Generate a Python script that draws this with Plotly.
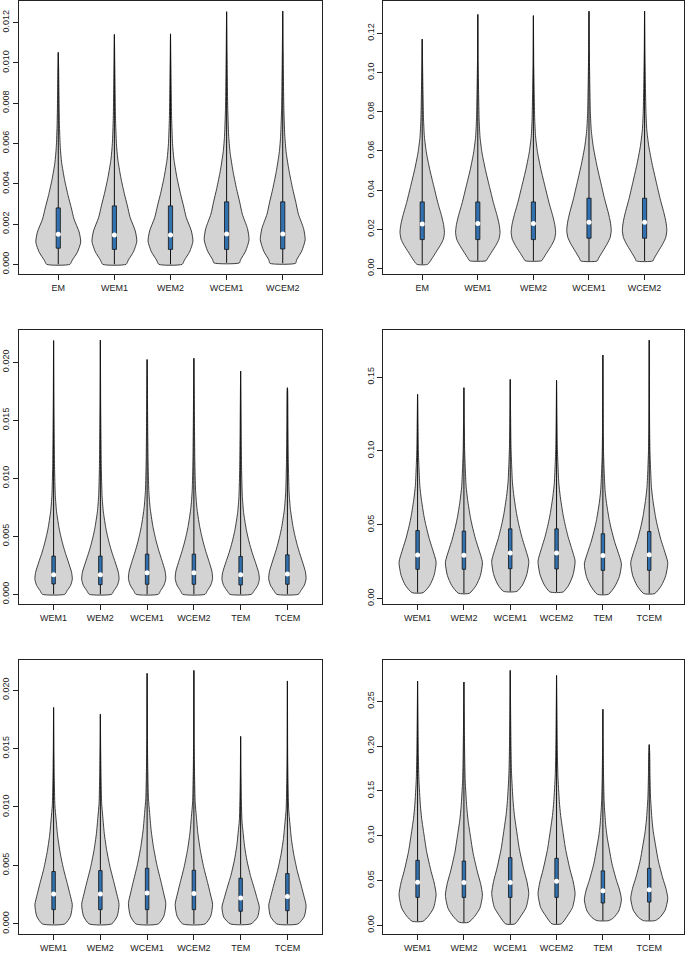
import plotly.graph_objects as go

# ---------------- data ----------------
# Panel 1 (top-left)
p1_cats = ["EM", "WEM1", "WEM2", "WCEM1", "WCEM2"]
p1_min = [0.0, 0.0, 0.0, 0.00007, 0.00005]
p1_q1 = [0.00080, 0.00074, 0.00074, 0.00074, 0.00076]
p1_med = [0.00149, 0.00146, 0.00146, 0.00151, 0.00151]
p1_q3 = [0.00280, 0.00290, 0.00290, 0.00310, 0.00310]
p1_max = [0.01052, 0.01141, 0.01144, 0.01254, 0.01257]
p1_base = [0.52, 0.52, 0.52, 0.57, 0.57]
p1_lev = [0.0002, 0.0006, 0.0011, 0.0016, 0.00225, 0.0028, 0.0034, 0.0042, 0.00505, 0.0058, 0.0070, 0.0085, 0.0098]
p1_den = [0.62, 0.85, 1.00, 0.93, 0.70, 0.58, 0.44, 0.28, 0.15, 0.09, 0.05, 0.03, 0.015]
p1_ticks = [0.000, 0.002, 0.004, 0.006, 0.008, 0.010, 0.012]

# Panel 2 (top-right)
p2_cats = ["EM", "WEM1", "WEM2", "WCEM1", "WCEM2"]
p2_min = [0.0022, 0.0040, 0.0040, 0.0039, 0.0039]
p2_q1 = [0.0148, 0.0148, 0.0148, 0.0155, 0.0155]
p2_med = [0.0227, 0.0230, 0.0230, 0.0236, 0.0236]
p2_q3 = [0.0340, 0.0340, 0.0340, 0.0359, 0.0359]
p2_max = [0.1170, 0.1296, 0.1290, 0.1313, 0.1313]
p2_base = [0.24, 0.37, 0.37, 0.37, 0.37]
p2_lev = [0.0050, 0.0084, 0.0118, 0.0150, 0.0185, 0.0225, 0.0269, 0.0337, 0.0420, 0.0505, 0.0590, 0.0670, 0.0758, 0.0900, 0.1050]
p2_den = [0.43, 0.62, 0.81, 0.95, 1.00, 0.96, 0.87, 0.70, 0.52, 0.34, 0.19, 0.10, 0.06, 0.035, 0.015]
p2_ticks = [0.00, 0.02, 0.04, 0.06, 0.08, 0.10, 0.12]

# Panel 3 (middle-left)
p3_cats = ["WEM1", "WEM2", "WCEM1", "WCEM2", "TEM", "TCEM"]
p3_min = [0.0, 0.0, 0.0, 0.0, 0.0, 0.0]
p3_q1 = [0.00089, 0.00083, 0.00086, 0.00086, 0.00080, 0.00086]
p3_med = [0.00169, 0.00169, 0.00186, 0.00186, 0.00169, 0.00175]
p3_q3 = [0.00329, 0.00329, 0.00346, 0.00346, 0.00326, 0.00340]
p3_max = [0.02186, 0.02190, 0.02023, 0.02034, 0.01923, 0.01780]
p3_base = [0.60, 0.60, 0.60, 0.60, 0.58, 0.58]
p3_lev = [0.0003, 0.00077, 0.0013, 0.0019, 0.00278, 0.0035, 0.0042, 0.0049, 0.00564, 0.0071, 0.0085, 0.0110, 0.0140, 0.0170]
p3_den = [0.72, 0.91, 1.00, 0.96, 0.79, 0.64, 0.51, 0.40, 0.30, 0.16, 0.09, 0.05, 0.03, 0.015]
p3_ticks = [0.000, 0.005, 0.010, 0.015, 0.020]

# Panel 4 (middle-right)
p4_cats = ["WEM1", "WEM2", "WCEM1", "WCEM2", "TEM", "TCEM"]
p4_min = [0.0040, 0.0036, 0.0049, 0.0045, 0.0029, 0.0034]
p4_q1 = [0.0198, 0.0198, 0.0202, 0.0200, 0.0191, 0.0191]
p4_med = [0.0295, 0.0293, 0.0308, 0.0308, 0.0292, 0.0297]
p4_q3 = [0.0461, 0.0457, 0.0472, 0.0472, 0.0439, 0.0454]
p4_max = [0.1383, 0.1428, 0.1484, 0.1478, 0.1649, 0.1750]
p4_base = [0.30, 0.30, 0.36, 0.36, 0.30, 0.30]
p4_lev = [0.0090, 0.0157, 0.0247, 0.0337, 0.0405, 0.0495, 0.0562, 0.0675, 0.0765, 0.0900, 0.1010, 0.1200]
p4_den = [0.66, 0.89, 1.00, 0.80, 0.63, 0.45, 0.34, 0.20, 0.12, 0.07, 0.04, 0.02]
p4_ticks = [0.00, 0.05, 0.10, 0.15]

# Panel 5 (bottom-left)
p5_cats = ["WEM1", "WEM2", "WCEM1", "WCEM2", "TEM", "TCEM"]
p5_min = [0.0, 0.0, 0.0, 0.0, 0.0, 0.0]
p5_q1 = [0.00122, 0.00122, 0.00122, 0.00122, 0.00108, 0.00113]
p5_med = [0.00255, 0.00255, 0.00264, 0.00261, 0.00221, 0.00235]
p5_q3 = [0.00448, 0.00456, 0.00476, 0.00459, 0.00391, 0.00431]
p5_max = [0.01851, 0.01794, 0.02143, 0.02168, 0.01604, 0.02078]
p5_base = [0.60, 0.60, 0.60, 0.60, 0.55, 0.57]
p5_lev = [0.00065, 0.00164, 0.0025, 0.00334, 0.00476, 0.00618, 0.0076, 0.0090, 0.0101, 0.0125, 0.0150]
p5_den = [0.90, 1.00, 0.88, 0.75, 0.52, 0.34, 0.21, 0.13, 0.07, 0.035, 0.015]
p5_ticks = [0.000, 0.005, 0.010, 0.015, 0.020]

# Panel 6 (bottom-right)
p6_cats = ["WEM1", "WEM2", "WCEM1", "WCEM2", "TEM", "TCEM"]
p6_min = [0.0044, 0.0033, 0.0015, 0.0015, 0.0052, 0.0052]
p6_q1 = [0.0311, 0.0311, 0.0311, 0.0311, 0.0248, 0.0259]
p6_med = [0.0481, 0.0477, 0.0477, 0.0492, 0.0385, 0.0396]
p6_q3 = [0.0725, 0.0717, 0.0754, 0.0747, 0.0607, 0.0636]
p6_max = [0.2726, 0.2715, 0.2844, 0.2788, 0.2411, 0.2016]
p6_base = [0.29, 0.25, 0.25, 0.25, 0.32, 0.32]
p6_lev = [0.0100, 0.0192, 0.0340, 0.0470, 0.0600, 0.0820, 0.1006, 0.1190, 0.1340, 0.1630, 0.1930, 0.2200, 0.2500]
p6_den = [0.58, 0.86, 1.00, 0.90, 0.73, 0.49, 0.35, 0.22, 0.15, 0.07, 0.04, 0.025, 0.01]
p6_ticks = [0.00, 0.05, 0.10, 0.15, 0.20, 0.25]

# ---------------- styling / layout ----------------
HALF = 0.4          # max half-width of a violin (category units)
BOXW = 0.075        # box width (category units)
VIOLIN_FILL = "#D3D3D3"
OUTLINE = "#2b2b2b"
BOX_FILL = "#3271B0"
FONT = dict(family="Liberation Sans, Arial, sans-serif", size=9, color="#222222")

panels = [
    dict(cats=p1_cats, mn=p1_min, q1=p1_q1, med=p1_med, q3=p1_q3, mx=p1_max, base=p1_base,
         lev=p1_lev, den=p1_den, ticks=p1_ticks, fmt=".3f",
         xd=[19 / 685, 322 / 685], yd=[1 - 275 / 956, 1 - 1 / 956]),
    dict(cats=p2_cats, mn=p2_min, q1=p2_q1, med=p2_med, q3=p2_q3, mx=p2_max, base=p2_base,
         lev=p2_lev, den=p2_den, ticks=p2_ticks, fmt=".2f",
         xd=[383.3 / 685, 683.5 / 685], yd=[1 - 275 / 956, 1 - 1 / 956]),
    dict(cats=p3_cats, mn=p3_min, q1=p3_q1, med=p3_med, q3=p3_q3, mx=p3_max, base=p3_base,
         lev=p3_lev, den=p3_den, ticks=p3_ticks, fmt=".3f",
         xd=[19 / 685, 322 / 685], yd=[1 - 605.7 / 956, 1 - 330.7 / 956]),
    dict(cats=p4_cats, mn=p4_min, q1=p4_q1, med=p4_med, q3=p4_q3, mx=p4_max, base=p4_base,
         lev=p4_lev, den=p4_den, ticks=p4_ticks, fmt=".2f",
         xd=[383.3 / 685, 683.5 / 685], yd=[1 - 605.7 / 956, 1 - 330.7 / 956]),
    dict(cats=p5_cats, mn=p5_min, q1=p5_q1, med=p5_med, q3=p5_q3, mx=p5_max, base=p5_base,
         lev=p5_lev, den=p5_den, ticks=p5_ticks, fmt=".3f",
         xd=[19 / 685, 322 / 685], yd=[1 - 936 / 956, 1 - 661.7 / 956]),
    dict(cats=p6_cats, mn=p6_min, q1=p6_q1, med=p6_med, q3=p6_q3, mx=p6_max, base=p6_base,
         lev=p6_lev, den=p6_den, ticks=p6_ticks, fmt=".2f",
         xd=[383.3 / 685, 683.5 / 685], yd=[1 - 936 / 956, 1 - 661.7 / 956]),
]


def violin_outline(pos, vmin, vmax, base_w, scale, lev, den):
    ys, ws = [vmin], [base_w]
    for l, d in zip(lev, den):
        l2 = l * scale
        if vmin < l2 < vmax:
            ys.append(l2)
            ws.append(d)
    ys.append(vmax)
    ws.append(0.0)
    xr = [pos + HALF * w for w in ws]
    xl = [pos - HALF * w for w in ws]
    x = xr + xl[-2::-1] + [xr[0]]
    y = ys + ys[-2::-1] + [ys[0]]
    return x, y


fig = go.Figure()
layout = dict(
    width=685, height=956, margin=dict(l=0, r=0, t=0, b=0),
    paper_bgcolor="white", plot_bgcolor="white", showlegend=False,
    font=FONT,
)

for k, p in enumerate(panels, start=1):
    xa = "x" if k == 1 else f"x{k}"
    ya = "y" if k == 1 else f"y{k}"
    n = len(p["cats"])
    pos = list(range(1, n + 1))
    ref_q3 = p["q3"][0]
    for i in range(n):
        x, y = violin_outline(pos[i], p["mn"][i], p["mx"][i], p["base"][i],
                              p["q3"][i] / ref_q3, p["lev"], p["den"])
        fig.add_trace(go.Scatter(
            x=x, y=y, mode="lines", fill="toself", fillcolor=VIOLIN_FILL,
            line=dict(color=OUTLINE, width=0.9, shape="spline", smoothing=0.6),
            xaxis=xa, yaxis=ya, hoverinfo="skip"))
        fig.add_trace(go.Scatter(
            x=[pos[i], pos[i]], y=[p["mn"][i], p["mx"][i]], mode="lines",
            line=dict(color="#111111", width=1), xaxis=xa, yaxis=ya, hoverinfo="skip"))
        bl, br = pos[i] - BOXW / 2, pos[i] + BOXW / 2
        fig.add_trace(go.Scatter(
            x=[bl, br, br, bl, bl],
            y=[p["q1"][i], p["q1"][i], p["q3"][i], p["q3"][i], p["q1"][i]],
            mode="lines", fill="toself", fillcolor=BOX_FILL,
            line=dict(color="#111111", width=0.8), xaxis=xa, yaxis=ya, hoverinfo="skip"))
    fig.add_trace(go.Scatter(
        x=pos, y=p["med"], mode="markers",
        marker=dict(color="white", size=5, line=dict(width=0)),
        xaxis=xa, yaxis=ya, hoverinfo="skip"))

    lo = min(p["mn"]); hi = max(p["mx"]); ext = 0.04 * (hi - lo)
    xext = 0.04 * n
    axis_common = dict(showline=True, mirror=True, linecolor="#222222", linewidth=1,
                       showgrid=False, zeroline=False, ticks="outside", ticklen=5,
                       tickwidth=1, tickcolor="#222222", tickfont=FONT)
    layout[f"xaxis{'' if k == 1 else k}"] = dict(
        domain=p["xd"], anchor=ya, range=[0.5 - xext, n + 0.5 + xext],
        tickmode="array", tickvals=pos, ticktext=p["cats"], **axis_common)
    layout[f"yaxis{'' if k == 1 else k}"] = dict(
        domain=p["yd"], anchor=xa, range=[lo - ext, hi + ext],
        tickmode="array", tickvals=p["ticks"], tickformat=p["fmt"], tickangle=-90,
        **axis_common)

fig.update_layout(**layout)
fig.write_html("out.html", config={"displayModeBar": False},
               post_script="document.body.style.margin='0';document.body.style.overflow='hidden';")
